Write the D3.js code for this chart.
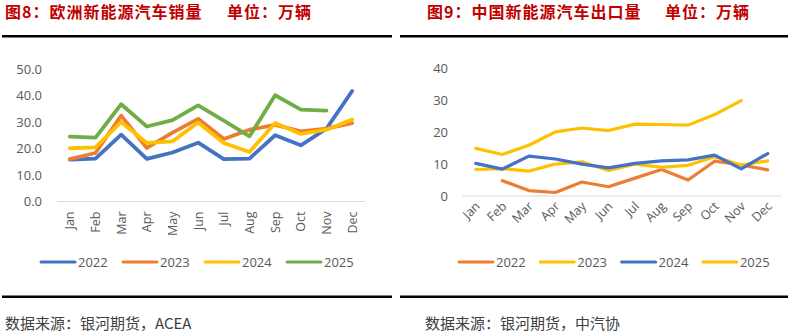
<!DOCTYPE html>
<html>
<head>
<meta charset="utf-8">
<script src="https://cdn.jsdelivr.net/npm/d3@7"></script>
<style>
  body { margin: 0; background: #fff; }
  svg { display: block; }
  text { font-family: "Open Sans", "Noto Sans CJK SC", sans-serif; }
  .title { font-family: "Noto Sans CJK SC", sans-serif; font-weight: 700; fill: #c00000; letter-spacing: 1px; }
  .source { font-family: "Noto Sans CJK SC", sans-serif; fill: #404040; }
</style>
</head>
<body>
<svg id="chart" width="788" height="334"></svg>
<script>
const months = ['Jan', 'Feb', 'Mar', 'Apr', 'May', 'Jun', 'Jul', 'Aug', 'Sep', 'Oct', 'Nov', 'Dec']

// Europe NEV sales, 10k units
const euYears = ['2022', '2023', '2024', '2025']
const eu2022 = [15.8, 16.2, 25.2, 16.1, 18.5, 22.2, 16.0, 16.2, 25.0, 21.2, 27.5, 41.7]
const eu2023 = [16.0, 18.3, 32.4, 20.2, 26.0, 31.2, 23.6, 27.1, 28.9, 26.5, 27.5, 29.6]
const eu2024 = [20.1, 20.4, 30.0, 22.1, 22.7, 29.8, 22.1, 18.7, 29.6, 25.5, 27.1, 30.9]
const eu2025 = [24.5, 24.1, 36.7, 28.3, 30.7, 36.3, 30.5, 24.6, 40.1, 34.7, 34.3, null]
const euTicks = [0, 10, 20, 30, 40, 50]

// China NEV exports, 10k units
const cnYears = ['2022', '2023', '2024', '2025']
const cn2022 = [null, 4.8, 1.7, 1.1, 4.4, 2.9, 5.6, 8.3, 5.0, 10.9, 9.7, 8.2]
const cn2023 = [8.3, 8.6, 7.8, 10.0, 10.7, 8.0, 10.0, 9.0, 9.6, 12.3, 9.7, 11.0]
const cn2024 = [10.2, 8.4, 12.5, 11.6, 10.0, 8.8, 10.2, 11.0, 11.3, 12.8, 8.5, 13.3]
const cn2025 = [14.9, 13.0, 15.9, 20.1, 21.3, 20.5, 22.5, 22.4, 22.2, 25.5, 29.9, null]
const cnTicks = [0, 10, 20, 30, 40]

const svg = d3.select('#chart')

function drawPanel (opts) {
  const g = svg.append('g')

  // title is split in two: figure name, then the unit
  g.append('text')
    .attr('class', 'title')
    .attr('x', opts.titleX)
    .attr('y', 18)
    .style('font-size', '16px')
    .text(opts.title)
  g.append('text')
    .attr('class', 'title')
    .attr('x', opts.unitX)
    .attr('y', 18)
    .style('font-size', '16px')
    .text('单位：万辆')

  // black rules above and below the plot
  g.append('rect').attr('x', opts.ruleX0).attr('y', 35).attr('width', opts.ruleX1 - opts.ruleX0).attr('height', 2.5).attr('fill', '#000')
  g.append('rect').attr('x', opts.ruleX0).attr('y', 295.5).attr('width', opts.ruleX1 - opts.ruleX0).attr('height', 2.5).attr('fill', '#000')

  const x = d3.scaleBand().domain(months).range(opts.xRange).padding(0)
  const y = d3.scaleLinear().domain(opts.yDomain).range(opts.yRange)

  // value axis labels
  g.append('g')
    .selectAll('text')
    .data(opts.ticks)
    .join('text')
    .attr('x', opts.yLabelX)
    .attr('y', d => y(d))
    .attr('dy', '0.35em')
    .attr('text-anchor', 'end')
    .style('font-size', '13px')
    .attr('fill', '#595959')
    .text(d => opts.tickFormat(d))

  // baseline
  g.append('line')
    .attr('x1', opts.xRange[0]).attr('x2', opts.xRange[1])
    .attr('y1', y(0)).attr('y2', y(0))
    .attr('stroke', '#d9d9d9').attr('stroke-width', 1)

  // category labels
  g.append('g')
    .selectAll('text')
    .data(months)
    .join('text')
    .attr('text-anchor', 'end')
    .attr('transform', d => {
      const cx = x(d) + x.bandwidth() / 2
      return opts.rotate === -90
        ? `translate(${cx + 4.5},${y(0) + 10}) rotate(-90)`
        : `translate(${cx + 5},${y(0) + 11}) rotate(-45)`
    })
    .style('font-size', '12.5px')
    .attr('fill', '#595959')
    .text(d => d)

  const line = d3.line()
    .defined(d => d != null)
    .x((d, i) => x(months[i]) + x.bandwidth() / 2)
    .y(d => y(d))

  opts.series.forEach(s => {
    g.append('path')
      .attr('d', line(s.values))
      .attr('fill', 'none')
      .attr('stroke', s.color)
      .attr('stroke-width', opts.lineWidth)
      .attr('stroke-linejoin', 'round')
      .attr('stroke-linecap', 'round')
  })

  // legend
  const legend = g.append('g')
  opts.series.forEach((s, i) => {
    const lx = opts.legendX + i * opts.legendStep
    legend.append('line')
      .attr('x1', lx).attr('x2', lx + 34)
      .attr('y1', 262).attr('y2', 262)
      .attr('stroke', s.color).attr('stroke-width', 3)
      .attr('stroke-linecap', 'round')
    legend.append('text')
      .attr('x', lx + 37).attr('y', 262).attr('dy', '0.35em')
      .style('font-size', '13px')
      .attr('fill', '#595959')
      .text(s.name)
  })

  g.append('text')
    .attr('class', 'source')
    .attr('x', opts.sourceX)
    .attr('y', 329)
    .style('font-size', '15px')
    .text(opts.source)
}

const blue = '#4472c4'
const orange = '#ed7d31'
const yellow = '#ffc000'
const green = '#70ad47'

drawPanel({
  title: '图8：欧洲新能源汽车销量',
  titleX: 5,
  unitX: 227,
  ruleX0: 2,
  ruleX1: 392,
  xRange: [57, 365],
  yDomain: [0, 50],
  yRange: [201.5, 69],
  ticks: euTicks,
  tickFormat: d3.format('.1f'),
  yLabelX: 42,
  rotate: -90,
  lineWidth: 3.8,
  series: [
    { name: euYears[0], values: eu2022, color: blue },
    { name: euYears[1], values: eu2023, color: orange },
    { name: euYears[2], values: eu2024, color: yellow },
    { name: euYears[3], values: eu2025, color: green }
  ],
  legendX: 41,
  legendStep: 82,
  sourceX: 5,
  source: '数据来源：银河期货，ACEA'
})

drawPanel({
  title: '图9：中国新能源汽车出口量',
  titleX: 427,
  unitX: 665,
  ruleX0: 400,
  ruleX1: 788,
  xRange: [462.5, 781],
  yDomain: [0, 40],
  yRange: [196, 68.3],
  ticks: cnTicks,
  tickFormat: d => d,
  yLabelX: 448,
  rotate: -45,
  lineWidth: 3.2,
  series: [
    { name: cnYears[0], values: cn2022, color: orange },
    { name: cnYears[1], values: cn2023, color: yellow },
    { name: cnYears[2], values: cn2024, color: blue },
    { name: cnYears[3], values: cn2025, color: yellow }
  ],
  legendX: 459,
  legendStep: 81.3,
  sourceX: 425,
  source: '数据来源：银河期货，中汽协'
})
</script>
</body>
</html>
